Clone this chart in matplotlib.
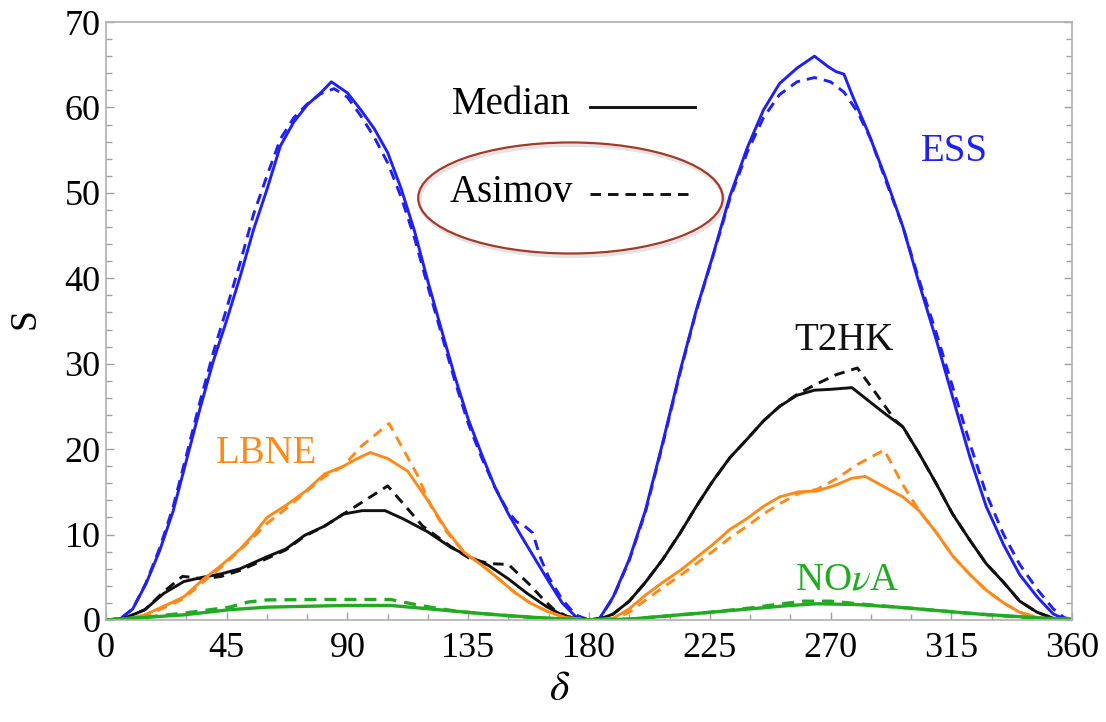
import matplotlib
matplotlib.use("Agg")
import matplotlib.pyplot as plt
from matplotlib.patches import Ellipse
import matplotlib.patheffects as pe

plt.rcParams['font.family'] = ['Liberation Serif', 'DejaVu Serif']
plt.rcParams['mathtext.fontset'] = 'stix'
plt.rcParams['lines.solid_joinstyle'] = 'round'
plt.rcParams['lines.dash_joinstyle'] = 'round'

# ESS
ess_med_d = [0, 5, 10, 15, 20, 25, 30, 35, 40, 45, 50, 55, 60, 65, 70, 75, 80, 84, 90, 95,
             100, 105, 110, 115, 120, 125, 130, 135, 140, 145, 150, 155, 160, 165, 170, 175, 180,
             184, 189, 195, 201, 207.5, 214, 220, 226, 232.5, 239, 245, 251, 257.5, 264, 269,
             272, 275, 278, 284, 290.5, 297, 303, 309.5, 315.5, 322, 328, 334.5, 340.5, 347,
             353, 358, 360]
ess_med_s = [0, 0.05, 1.3, 4.3, 8.1, 12.7, 18.7, 24.7, 30.3, 35.1, 40.2, 45.7, 50.4, 55.5, 58.3,
             60.3, 61.7, 63.0, 61.7, 59.7, 57.5, 54.7, 50.5, 45.5, 39.6, 34, 28.5, 23.5, 19.4,
             15.5, 12.4, 9.7, 7.1, 4.5, 2.0, 0.4, 0,
             0.2, 2.7, 7.1, 12.8, 20.8, 29.2, 36.3, 42.5, 49.6, 55.3, 59.7, 62.8, 64.6, 66.0,
             64.8, 64.2, 63.9, 61.5, 57.1, 51.8, 46, 39.4, 32.7, 26.1, 19, 13.3, 8.8, 5.3, 2.7,
             0.7, 0, 0]
ess_asi_d = [0, 5, 10, 15, 20, 25, 30, 35, 40, 45, 50, 55, 60, 65, 70, 75, 80, 85, 90, 95,
             100, 105, 110, 115, 120, 125, 130, 135, 140, 145, 150, 153, 156, 159, 162, 165,
             170, 175, 180,
             184, 189, 195, 201, 207.5, 214, 220, 226, 232.5, 239, 245, 251, 257.5, 264, 270,
             275, 280, 285, 290.5, 297, 303, 309.5, 315.5, 322, 328, 334.5, 340.5, 347, 353,
             357, 360]
ess_asi_s = [0, 0.05, 1.3, 4.4, 8.4, 13.2, 19.3, 25.5, 31.3, 36.5, 41.8, 47.5, 52, 56.3, 58.8,
             60.4, 61.6, 62.2, 61.2, 59, 56.5, 53.5, 49.5, 44.7, 39, 33.5, 28, 23, 19, 15.5,
             12.6, 11.5, 11.0, 10.2, 7.2, 5.0, 2.4, 0.6, 0,
             0.2, 2.6, 7.0, 12.6, 20.6, 29, 36.2, 42.4, 49.3, 54.8, 58.8, 61.5, 63, 63.5, 63,
             61.8, 59.5, 56.3, 51.5, 46, 39.8, 33.5, 27.3, 20.6, 14.8, 10, 6.5, 3.6, 1.3, 0.3, 0]

# T2HK
t2hk_med_d = [0, 7, 14.5, 21.5, 29, 36, 43, 50, 60, 67, 74, 81.5, 88.5, 95.5, 104, 111, 120,
              128.5, 135.5, 142.5, 150, 157, 164, 171, 180,
              184, 189, 195, 201, 207.5, 214, 220, 226, 232.5, 239, 245, 251, 257.5, 264, 270,
              278, 284, 290.5, 297, 303, 309.5, 315.5, 322, 328, 334.5, 340.5, 347, 353, 358,
              360]
t2hk_med_s = [0, 0.2, 1.2, 3.1, 4.5, 5.0, 5.4, 6.0, 7.4, 8.3, 9.9, 11.0, 12.4, 12.8, 12.8, 11.8,
              10.3, 8.5, 7.4, 6.4, 4.8, 3.1, 1.6, 0.4, 0,
              0.1, 0.7, 2.2, 4.4, 7.1, 10.2, 13.3, 16.2, 19, 21.2, 23.3, 25, 26.3, 26.9, 27.0,
              27.2, 25.7, 24.1, 22.6, 19.5, 15.9, 12.4, 9.3, 6.6, 4.4, 2.2, 0.9, 0.2, 0, 0]
t2hk_asi_d = [0, 7, 14.5, 21.5, 28.5, 32, 36, 43, 50, 60, 67, 74, 81.5, 88.5, 105, 118, 128.5,
              135.5, 143, 150, 158, 163, 167, 172, 180,
              184, 189, 195, 201, 207.5, 214, 220, 226, 232.5, 239, 245, 251, 257.5, 264, 272,
              280, 287, 294, 297, 303, 309.5, 315.5, 322, 328, 334.5, 340.5, 347, 353, 358, 360]
t2hk_asi_s = [0, 0.2, 1.2, 3.3, 5.1, 5.0, 4.8, 5.1, 5.8, 7.2, 8.2, 9.8, 11.0, 12.4, 15.7, 11.0,
              8.6, 7.2, 6.6, 6.5, 4.1, 2.4, 1.2, 0.4, 0,
              0.1, 0.7, 2.2, 4.4, 7.1, 10.2, 13.3, 16.2, 19, 21.2, 23.3, 25, 26.4, 27.5, 28.7,
              29.5, 26.5, 23.4, 22.6, 19.5, 15.9, 12.4, 9.3, 6.6, 4.4, 2.2, 0.9, 0.2, 0, 0]

# LBNE
lbne_med_d = [0, 7.5, 14.5, 21.5, 29, 36, 43, 50, 55, 60, 67, 74.5, 81.5, 88.5, 93, 98.5, 105,
              112.5, 121, 127, 133.5, 141, 146, 152, 158, 164.5, 171, 180,
              189, 195, 201, 207.5, 214, 220, 226, 232.5, 239, 245, 251, 258, 265, 272, 278, 283,
              290.5, 297, 303, 309.5, 315.5, 322, 328, 334.5, 340.5, 347, 353, 360]
lbne_med_s = [0, 0.1, 0.6, 1.6, 2.7, 4.7, 6.4, 8.3, 10, 12.0, 13.4, 15.1, 17.1, 18.0, 18.8, 19.6,
              18.9, 17.4, 13.5, 10.5, 7.9, 6.2, 4.9, 3.3, 2.0, 1.0, 0.3, 0,
              0.2, 1.3, 2.9, 4.4, 5.8, 7.3, 8.8, 10.6, 11.9, 13.3, 14.4, 15.0, 15.1, 15.8, 16.6,
              16.8, 15.5, 14.4, 12.8, 10.2, 7.5, 5.3, 3.5, 2.0, 0.9, 0.3, 0, 0]
lbne_asi_d = [0, 7.5, 14.5, 21.5, 29, 36, 43, 50, 55, 60, 67, 74.5, 81.5, 88.5, 95, 105.5, 116,
              121, 127, 133.5, 141, 146, 152, 158, 164.5, 171, 180,
              189, 195, 201, 207.5, 214, 220, 226, 232.5, 239, 245, 251, 258, 265, 272, 280, 290,
              297, 303, 309.5, 315.5, 322, 328, 334.5, 340.5, 347, 353, 360]
lbne_asi_s = [0, 0.1, 0.5, 1.4, 2.5, 4.4, 6.2, 8.2, 9.7, 11.3, 13.0, 15.0, 16.8, 18.0, 20.3,
              23.0, 17.0, 13.4, 10.3, 7.9, 6.2, 4.9, 3.3, 2.0, 1.0, 0.3, 0,
              0.1, 0.9, 2.3, 3.8, 5.2, 6.6, 8.0, 9.6, 11.0, 12.4, 13.6, 14.8, 15.3, 16.5, 18.2,
              19.9, 15.8, 12.8, 10.2, 7.5, 5.3, 3.5, 2.0, 0.9, 0.3, 0, 0]

# NOvA
nova_med_d = [0, 14.5, 29, 46, 60, 74, 89, 106, 117, 131, 146, 160, 172, 180,
              195, 210, 225, 240, 255, 265, 280, 295, 310, 325, 340, 350, 360]
nova_med_s = [0, 0.3, 0.6, 1.2, 1.5, 1.6, 1.7, 1.7, 1.4, 1.0, 0.6, 0.3, 0.1, 0,
              0.1, 0.5, 0.9, 1.3, 1.7, 1.9, 1.8, 1.5, 1.1, 0.7, 0.4, 0.2, 0.1]
nova_asi_d = [0, 14.5, 29, 46, 53, 60, 80, 106, 117, 131, 146, 160, 172, 180,
              195, 210, 225, 240, 252, 260, 270, 280, 295, 310, 325, 340, 350, 360]
nova_asi_s = [0, 0.3, 0.8, 1.5, 2.1, 2.35, 2.4, 2.4, 1.7, 1.0, 0.6, 0.25, 0.05, 0,
              0.1, 0.5, 0.9, 1.4, 1.9, 2.2, 2.2, 1.9, 1.5, 1.1, 0.7, 0.35, 0.15, 0.05]

blue = '#2020f5'
black = '#111111'
orange = '#ff8a1c'
green = '#22aa22'
dash = (0, (3.6, 2.4))
lw = 2.1

fig = plt.figure(figsize=(11.06, 7.22), dpi=100)
ax = fig.add_axes([0.0958, 0.1413, 0.8735, 0.8282])

ax.plot(ess_med_d, ess_med_s, color=blue, lw=lw)
ax.plot(ess_asi_d, ess_asi_s, color=blue, lw=lw, linestyle=dash)
ax.plot(t2hk_med_d, t2hk_med_s, color=black, lw=lw)
ax.plot(t2hk_asi_d, t2hk_asi_s, color=black, lw=lw, linestyle=dash)
ax.plot(lbne_med_d, lbne_med_s, color=orange, lw=lw)
ax.plot(lbne_asi_d, lbne_asi_s, color=orange, lw=lw, linestyle=dash)
ax.plot(nova_med_d, nova_med_s, color=green, lw=2.4)
ax.plot(nova_asi_d, nova_asi_s, color=green, lw=2.4, linestyle=dash)

ax.set_xlim(0, 360)
ax.set_ylim(0, 70)
ax.set_xticks(range(0, 361, 45))
ax.set_xticks(range(0, 361, 15), minor=True)
ax.set_yticks(range(0, 71, 10))
ax.set_yticks(range(0, 71, 2), minor=True)

for sp in ax.spines.values():
    sp.set_color('#b0b0b0')
    sp.set_linewidth(1.2)
ax.tick_params(which='both', direction='in', color='#a0a0a0', width=1.0,
               left=True, right=True, bottom=True, top=False, labelsize=26)
ax.tick_params(which='major', length=6)
ax.tick_params(which='minor', length=4)
ax.tick_params(axis='x', pad=9)
ax.tick_params(axis='y', pad=4)

fig.text(25 / 1106, 1 - 319 / 722, 'S', rotation=90, fontsize=27, ha='center', va='center')
fig.text(560 / 1106, 1 - 690 / 722, r'$\delta$', fontsize=30, ha='center', va='center')

ax.text(316, 54.8, 'ESS', color=blue, fontsize=28, ha='center', va='center')
ax.text(275, 32.7, 'T2HK', color=black, fontsize=28, ha='center', va='center')
ax.text(60, 19.5, 'LBNE', color=orange, fontsize=28, ha='center', va='center')
ax.text(276, 4.7, r'NO$\nu$A', color=green, fontsize=28, ha='center', va='center')

ax.text(151, 60.3, 'Median', fontsize=28, ha='center', va='center')
ax.plot([180.5, 219.5], [60.1, 60.1], color=black, lw=lw)
ax.text(151, 50.1, 'Asimov', fontsize=28, ha='center', va='center')
ax.plot([180.5, 219.5], [49.9, 49.9], color=black, lw=lw, linestyle=dash)

ell = Ellipse((173.1, 49.4), 113.5, 13.0, facecolor='none', edgecolor='#a33a28', lw=1.6,
              path_effects=[pe.SimpleLineShadow(offset=(1.0, -2.0), shadow_color='gray',
                                                alpha=0.22, linewidth=2.5),
                            pe.Normal()])
ax.add_patch(ell)

fig.savefig('out.png', dpi=100)
